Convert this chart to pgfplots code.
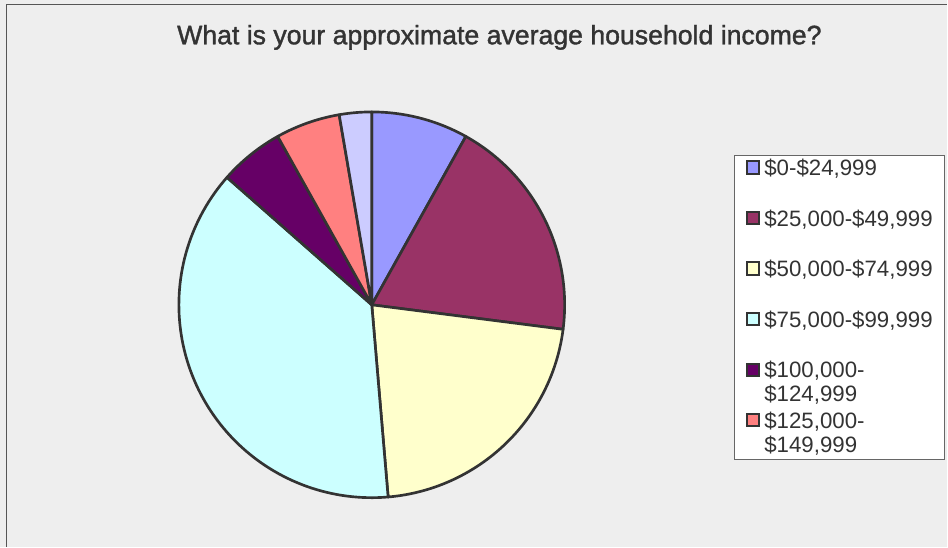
\documentclass[border=0pt]{standalone}
\usepackage{pgfplots}
\usepackage{pgfplotstable}
\pgfplotsset{compat=1.18}
\usepackage{fontspec}
\setmainfont{Liberation Sans}
\newfontfamily\titlefont{Liberation Sans}[FakeBold=1.4]
\definecolor{bgcol}{HTML}{EEEEEE}
\definecolor{framecol}{HTML}{555555}
\definecolor{pieline}{HTML}{333333}
\definecolor{txtcol}{HTML}{333333}
\definecolor{pie0}{HTML}{9999FF}
\definecolor{pie1}{HTML}{993366}
\definecolor{pie2}{HTML}{FFFFCC}
\definecolor{pie3}{HTML}{CCFFFF}
\definecolor{pie4}{HTML}{660066}
\definecolor{pie5}{HTML}{FF8080}
\definecolor{pie6}{HTML}{CCCCFF}
\pgfplotsset{pieleg/.style={legend image code/.code={\draw[fill=#1,draw=pieline,line width=1.5pt] (0pt,-4.6pt) rectangle (9.2pt,4.6pt);}}}
\newcommand\twolines[2]{\begin{tabular}[t]{@{}l@{}}#1\\#2\end{tabular}}
\begin{document}
\begin{tikzpicture}
\pgfplotstableread{
value
3
7
8
14
2
2
1
}\incometable
\def\pietotal{0}
\def\piecum{0}
\pgfplotsforeachungrouped \i in {0,...,6}{%
  \pgfplotstablegetelem{\i}{value}\of\incometable
  \pgfmathsetmacro\pietotal{\pietotal+\pgfplotsretval}}%
\pgfplotsforeachungrouped \i in {0,...,6}{%
  \pgfplotstablegetelem{\i}{value}\of\incometable
  \expandafter\edef\csname pieS\i\endcsname{\piecum}%
  \pgfmathsetmacro\piecum{\piecum+360*\pgfplotsretval/\pietotal}%
  \expandafter\edef\csname pieE\i\endcsname{\piecum}}%
\fill[bgcol] (0,0) rectangle (711pt,410.25pt);
\draw[framecol,line width=0.9pt] (4.9pt,0) -- (4.9pt,406.9pt) -- (711pt,406.9pt);
\begin{axis}[
  at={(0,0)}, anchor=south west,
  width=711pt, height=410.25pt, scale only axis,
  xmin=0, xmax=948, ymin=0, ymax=547,
  hide axis, clip=false,
  title={What is your approximate average household income?},
  title style={at={(0.5271,0.9044)}, anchor=base, font=\titlefont\fontsize{20}{24}\selectfont, text=txtcol},
  legend cell align=left,
  legend style={at={(0.7743,0.7166)}, anchor=north west, draw=black!60, line width=0.8pt, fill=white,
    inner xsep=9pt, inner ysep=1pt, column sep=3pt, row sep=21.95pt,
    nodes={inner sep=0pt, text height=14pt, text depth=2pt, text=txtcol},
    font=\fontsize{16.7}{18}\selectfont},
]
\pgfplotsforeachungrouped \i in {0,...,6}{%
  \edef\pieplot{\noexpand\addplot[forget plot, fill=pie\i, draw=pieline, line width=2pt, line join=round,
    domain=\csname pieS\i\endcsname:\csname pieE\i\endcsname, samples=90]
    ({372+193*sin(x)},{242+193*cos(x)}) -- (axis cs:372,242) -- cycle;}%
  \pieplot}
\addlegendimage{pieleg=pie0}\addlegendentry{\$0-\$24,999}
\addlegendimage{pieleg=pie1}\addlegendentry{\$25,000-\$49,999}
\addlegendimage{pieleg=pie2}\addlegendentry{\$50,000-\$74,999}
\addlegendimage{pieleg=pie3}\addlegendentry{\$75,000-\$99,999}
\addlegendimage{pieleg=pie4}\addlegendentry{\twolines{\$100,000-}{\$124,999}}
\addlegendimage{pieleg=pie5}\addlegendentry[text depth=22.25pt, yshift=-10.125pt]{\twolines{\$125,000-}{\$149,999}}
\end{axis}
\end{tikzpicture}
\end{document}
